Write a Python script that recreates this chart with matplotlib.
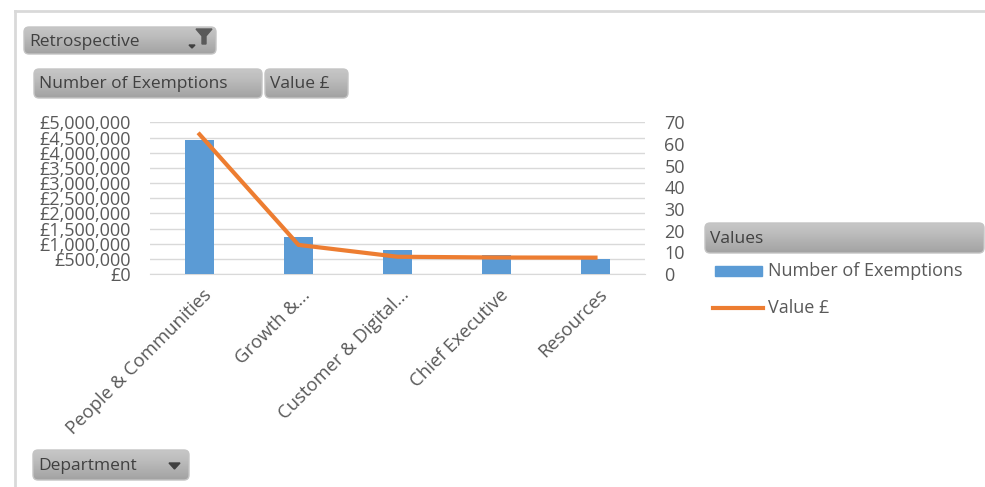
import matplotlib
matplotlib.use("Agg")
import numpy as np
import matplotlib.pyplot as plt
import matplotlib.transforms as mtrans
from matplotlib.patches import FancyBboxPatch, Polygon
from matplotlib.lines import Line2D
from matplotlib.ticker import FuncFormatter, MultipleLocator

plt.rcParams["font.family"] = ["Open Sans", "DejaVu Sans"]

departments = ["People & Communities", "Growth &...", "Customer & Digital...",
               "Chief Executive", "Resources"]
exemptions = [62, 17, 11, 9, 7]
value_gbp = [4610000, 960000, 570000, 545000, 540000]

BLUE = "#5B9BD5"
ORANGE = "#ED7D31"
TICK = "#595959"
GRID = "#D9D9D9"

W, H = 985, 487
fig = plt.figure(figsize=(W / 100, H / 100), dpi=100)


def fx(px):
    return px / W


def fy(py):
    return 1 - py / H


rect = [fx(150), fy(274), fx(645) - fx(150), fy(122.5) - fy(274)]
ax = fig.add_axes(rect)          # £ axis with gridlines (bottom)
ax2 = ax.twinx()                 # count axis with bars
ax3 = fig.add_axes(rect, sharex=ax, sharey=ax)  # line on top
ax3.axis("off")

x = list(range(len(departments)))
ax2.bar(x, exemptions, width=0.3, color=BLUE)
ax3.plot(x, value_gbp, color=ORANGE, linewidth=3)

ax.set_xlim(-0.5, len(departments) - 0.5)
ax.set_ylim(0, 5000000)
ax2.set_ylim(0, 70)
ax.yaxis.set_major_locator(MultipleLocator(500000))
ax2.yaxis.set_major_locator(MultipleLocator(10))
ax.yaxis.set_major_formatter(FuncFormatter(lambda v, p: f"£{v:,.0f}"))

ax.grid(axis="y", color=GRID, linewidth=1)
for a in (ax, ax2):
    for s in a.spines.values():
        s.set_visible(False)
ax.spines["bottom"].set_visible(True)
ax.spines["bottom"].set_color(GRID)

ax.tick_params(axis="y", length=0, pad=14, labelsize=13, labelcolor=TICK)
ax2.tick_params(axis="y", length=0, pad=14, labelsize=13, labelcolor=TICK)
ax.set_xticks(x)
ax.set_xticklabels(departments, rotation=45, ha="right", va="center",
                   rotation_mode="anchor", fontsize=13.3, color=TICK)
ax.tick_params(axis="x", length=0, pad=13)
for lbl in ax.get_xticklabels():
    lbl.set_transform(lbl.get_transform() +
                      mtrans.ScaledTranslation(9 / 100, 0, fig.dpi_scale_trans))

# frame of the pivot chart
fig.add_artist(Line2D([fx(15), fx(984)], [fy(11), fy(11)], color="#D9D9D9", linewidth=2))
fig.add_artist(Line2D([fx(15), fx(15)], [fy(11), fy(487)], color="#D9D9D9", linewidth=2))

# full-figure overlay axes for the field buttons
over = fig.add_axes([0, 0, 1, 1])
over.set_xlim(0, W)
over.set_ylim(H, 0)
over.axis("off")
grad = np.linspace(0, 1, 64).reshape(-1, 1)


def button(x0, y0, x1, y1, label, size=12.5):
    box = FancyBboxPatch((x0, y0), x1 - x0, y1 - y0,
                         boxstyle="round,pad=0,rounding_size=5",
                         facecolor="none", edgecolor="#C4C4C4", linewidth=1, zorder=3)
    over.add_patch(box)
    img = over.imshow(grad, extent=(x0, x1, y1, y0), cmap="Greys", vmin=-2.6, vmax=5.2,
                      aspect="auto", zorder=2)
    img.set_clip_path(box)
    over.text(x0 + 5, (y0 + y1) / 2 + 1, label, fontsize=size, color="#404040",
              ha="left", va="center", zorder=4)


button(24, 27, 216, 54, "Retrospective")
button(34, 69, 262, 98, "Number of Exemptions")
button(265, 69, 348, 98, "Value £")
button(33, 450, 189, 480, "Department")
button(705, 223, 984, 253, "Values")
over.set_xlim(0, W)
over.set_ylim(H, 0)

# filter icon and dropdown arrows
over.add_patch(Polygon([[196, 29], [212, 29], [206, 36], [206, 44], [202, 44], [202, 36]],
                       closed=True, color="#5A5A5A", zorder=5))
over.add_patch(Polygon([[189, 45], [195, 45], [192, 48]], closed=True, color="#404040", zorder=5))
over.add_patch(Polygon([[169, 463], [180, 463], [174.5, 469]], closed=True,
                       color="#404040", zorder=5))

# legend
over.add_patch(plt.Rectangle((715, 266), 47, 10, color=BLUE))
over.text(768, 271, "Number of Exemptions", fontsize=13, color=TICK, ha="left", va="center")
over.add_line(Line2D([713, 763], [308, 308], color=ORANGE, linewidth=3))
over.text(768, 308, "Value £", fontsize=13, color=TICK, ha="left", va="center")

fig.savefig("out.png", dpi=100)
